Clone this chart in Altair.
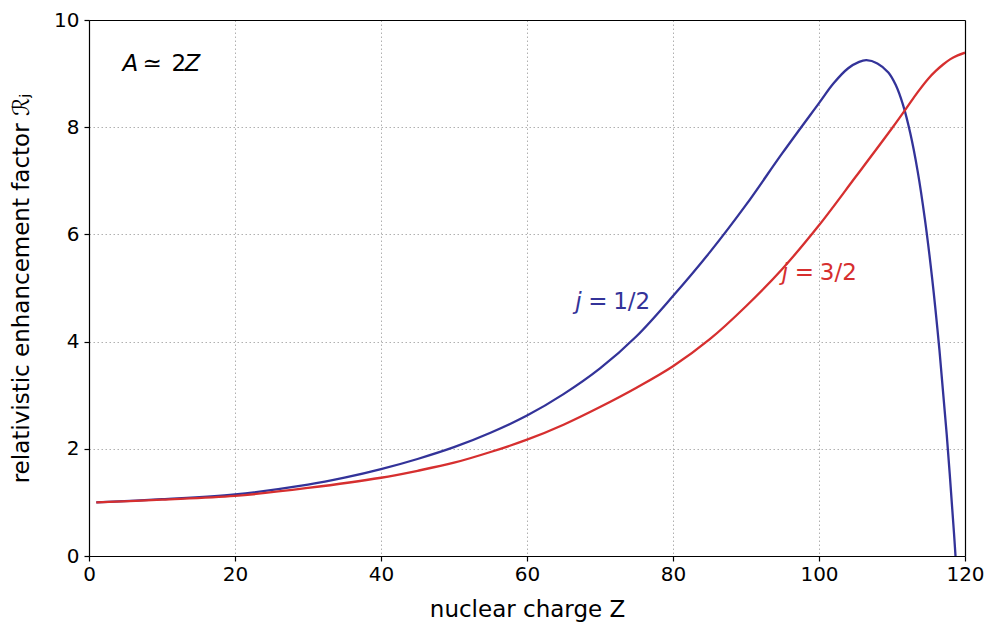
import altair as alt
import pandas as pd

# ---- data ----
z_half = [1, 10, 20, 30, 35, 40, 45, 50, 55, 60, 65, 70, 75, 80, 85, 90, 95, 100, 102, 104, 105.5,
          106.5, 108, 109.5, 110.5, 111.5, 112.5, 113.5, 114.5, 115.5, 116.5, 117.5, 118.5, 118.7]
r_half = [1.00, 1.06, 1.15, 1.33, 1.46, 1.62, 1.81, 2.03, 2.30, 2.62, 3.02, 3.50, 4.10, 4.85, 5.66, 6.55, 7.52, 8.45, 8.82, 9.10, 9.22,
          9.25, 9.19, 9.02, 8.79, 8.42, 7.89, 7.19, 6.29, 5.18, 3.84, 2.26, 0.41, 0.0]

z_three = [1, 10, 20, 30, 40, 45, 50, 55, 60, 65, 70, 75, 80, 85, 90, 95, 100, 105, 110,
           112, 113.5, 115, 116, 117, 118, 119, 120]
r_three = [1.00, 1.05, 1.12, 1.27, 1.46, 1.59, 1.74, 1.94, 2.17, 2.45, 2.78, 3.14, 3.54, 4.04, 4.66, 5.36, 6.17, 7.07, 7.98,
           8.36, 8.65, 8.91, 9.05, 9.17, 9.27, 9.34, 9.39]

x_ticks = [0, 20, 40, 60, 80, 100, 120]
y_ticks = [0, 2, 4, 6, 8, 10]

series = ["1/2", "3/2"]
colors = ["#333399", "#d62f2f"]

label_z = [66.6, 94.9]
label_r = [4.74, 5.28]
label_num = ["1/2", "3/2"]

note_z = [4.6]
note_r = [9.18]

FONT = "DejaVu Sans"
TICK_FS = 20
TITLE_FS = 23
ANN_FS = 23

df = pd.DataFrame({
    "Z": z_half + z_three,
    "R": r_half + r_three,
    "j": [series[0]] * len(z_half) + [series[1]] * len(z_three),
})
lab = pd.DataFrame({"Z": label_z, "R": label_r, "num": label_num, "j": series})
note = pd.DataFrame({"Z": note_z, "R": note_r})

xs = alt.Scale(domain=[0, 120], nice=False, zero=False)
ys = alt.Scale(domain=[0, 10], nice=False, zero=False)
cs = alt.Scale(domain=series, range=colors)

x_enc = alt.X("Z:Q", scale=xs, axis=alt.Axis(
    values=x_ticks, title="nuclear charge Z", titleY=53, titleBaseline="middle",
    labelPadding=3, format="d", labelFlush=False, labelOverlap=False,
    grid=True, gridColor="#b0b0b0", gridDash=[1.5, 2.5], gridWidth=1))
y_enc = alt.Y("R:Q", scale=ys, axis=alt.Axis(
    values=y_ticks, title="relativistic enhancement factor ℛⱼ",
    titleX=-68, titleY=268, titleAngle=270, titleAlign="center", titleBaseline="middle",
    labelPadding=5, format="d", labelFlush=False, labelOverlap=False,
    grid=True, gridColor="#b0b0b0", gridDash=[1.5, 2.5], gridWidth=1))

lines = alt.Chart(df).mark_line(strokeWidth=2.3, interpolate="catmull-rom", clip=True).encode(
    x=x_enc, y=y_enc,
    color=alt.Color("j:N", scale=cs, legend=None),
)

frame_x = alt.Axis(orient="top", labels=False, ticks=False, grid=False, title=None,
                   domain=True, domainColor="black", domainWidth=1.2, zindex=2)
frame_y = alt.Axis(orient="right", labels=False, ticks=False, grid=False, title=None,
                   domain=True, domainColor="black", domainWidth=1.2, zindex=2)


def piece(data, text, dx, italic, colored=True, frame=False):
    m = alt.Chart(data).mark_text(
        align="left", baseline="middle", font=FONT, fontSize=ANN_FS, dx=dx,
        fontStyle="italic" if italic else "normal")
    enc = dict(
        x=alt.X("Z:Q", scale=xs, axis=frame_x if frame else None),
        y=alt.Y("R:Q", scale=ys, axis=frame_y if frame else None),
    )
    if text.startswith("field:"):
        enc["text"] = alt.Text(text[6:] + ":N")
    else:
        enc["text"] = alt.value(text)
    if colored:
        enc["color"] = alt.Color("j:N", scale=cs, legend=None)
    else:
        enc["color"] = alt.value("black")
    return m.encode(**enc)


layers = [
    lines,
    piece(lab, "j", 0, True),
    piece(lab, "=", 13, False),
    piece(lab, "field:num", 38, False),
    piece(note, "A", 0, True, colored=False, frame=True),
    piece(note, "≃", 20, False, colored=False),
    piece(note, "2", 49, False, colored=False),
    piece(note, "Z", 62, True, colored=False),
]

chart = alt.layer(*layers).resolve_axis(x="independent", y="independent").properties(
    width=876, height=536,
    background="white",
    autosize=alt.AutoSizeParams(type="none"),
    padding={"left": 81, "top": 12, "right": 20, "bottom": 70},
).configure_view(
    stroke=None,
).configure_axis(
    labelFont=FONT, labelFontSize=TICK_FS, labelColor="black",
    titleFont=FONT, titleFontSize=TITLE_FS, titleColor="black", titleFontWeight="normal",
    domainColor="black", domainWidth=1.2,
    tickColor="black", tickSize=5, tickWidth=1.2,
)

chart.save("out.html", embed_options={"renderer": "svg", "actions": False})
